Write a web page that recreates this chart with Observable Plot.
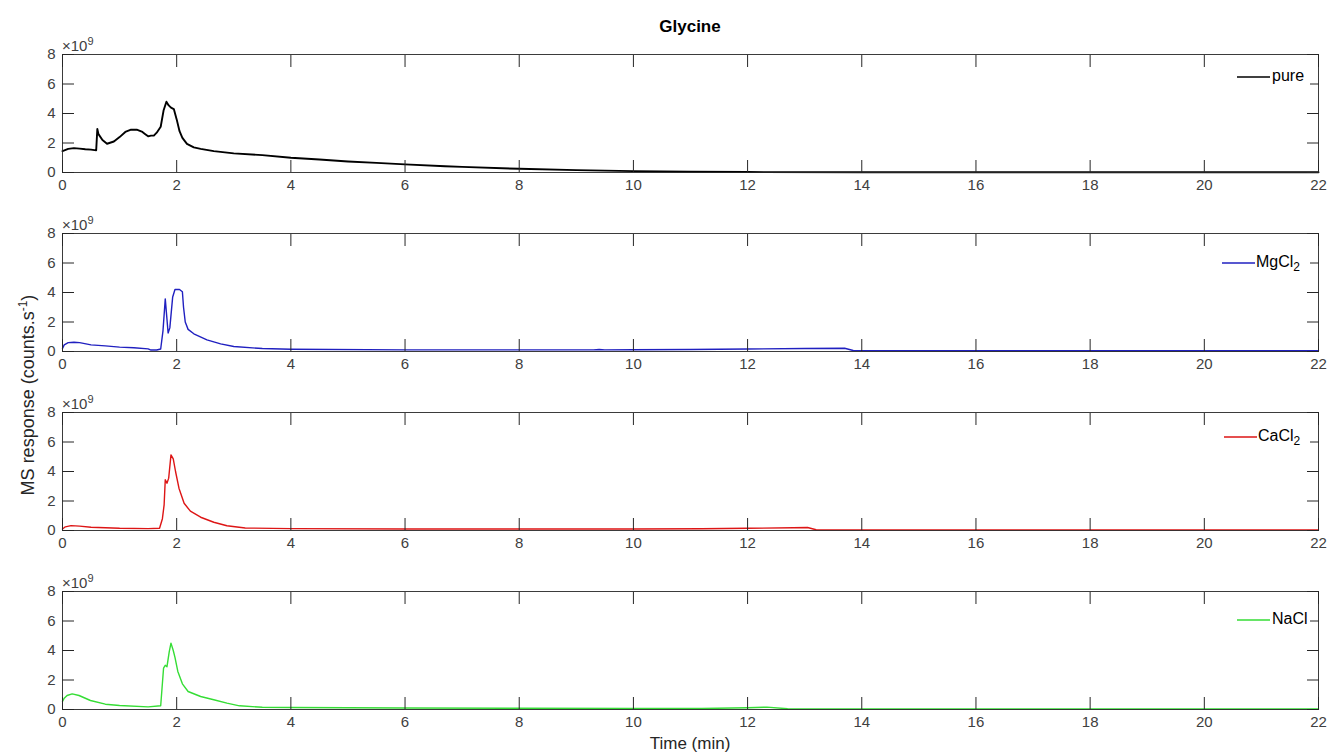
<!DOCTYPE html>
<html>
<head>
<meta charset="utf-8">
<script src="https://cdn.jsdelivr.net/npm/d3@7"></script>
<script src="https://cdn.jsdelivr.net/npm/@observablehq/plot@0.6"></script>
<style>
  body { margin: 0; background: #fff; }
  #chart { position: relative; width: 1333px; height: 754px; font-family: "Liberation Sans", Arial, sans-serif; color: #262626; }
  .abs { position: absolute; white-space: nowrap; }
  .panel { position: absolute; left: 0; }
  .exp { font-size: 15px; color: #404040; }
  .exp sup { font-size: 11px; }
  .leg { position: absolute; background: #fff; height: 26px; }
  .leg svg.ln { position: absolute; width: 33px; height: 4px; overflow: visible; }
  .leg .tx { position: absolute; font-size: 16px; color: #000; }
  .leg sub { font-size: 12px; }
</style>
</head>
<body>
<div id="chart"></div>
<script>
// ---- data (values in units of 10^9 counts/s) ----
const xTicks = [0, 2, 4, 6, 8, 10, 12, 14, 16, 18, 20, 22];
const yTicks = [0, 2, 4, 6, 8];

const pureT = [0,0.1,0.2,0.3,0.4,0.5,0.59,0.61,0.63,0.7,0.78,0.9,1.0,1.1,1.2,1.3,1.4,1.45,1.5,1.55,1.6,1.65,1.72,1.77,1.82,1.86,1.9,1.95,2.0,2.05,2.1,2.18,2.3,2.42,2.65,3.0,3.5,4,4.5,5,5.5,6,6.7,7,8,9,10,11,12,14,16,18,20,22];
const pureV = [1.45,1.6,1.65,1.62,1.58,1.55,1.5,2.95,2.6,2.2,1.95,2.1,2.4,2.75,2.9,2.9,2.75,2.6,2.45,2.5,2.5,2.7,3.1,4.2,4.8,4.55,4.4,4.3,3.6,2.8,2.35,1.94,1.7,1.6,1.45,1.3,1.18,1.0,0.88,0.75,0.65,0.55,0.42,0.38,0.25,0.16,0.09,0.05,0.03,0.02,0.02,0.02,0.02,0.02];

const mgT = [0,0.03,0.1,0.2,0.3,0.5,0.75,1.0,1.25,1.5,1.55,1.65,1.72,1.76,1.8,1.85,1.88,1.93,1.97,2.05,2.1,2.12,2.15,2.2,2.3,2.53,2.77,3.0,3.5,4,6,8,9.3,9.4,9.5,10,11,12,13,13.7,13.85,14,16,18,20,22];
const mgV = [0.2,0.45,0.6,0.63,0.6,0.45,0.38,0.3,0.25,0.18,0.1,0.1,0.17,1.4,3.57,1.25,1.6,3.7,4.2,4.2,4.05,3.0,2.0,1.5,1.2,0.79,0.52,0.34,0.2,0.15,0.11,0.11,0.11,0.14,0.11,0.12,0.14,0.17,0.2,0.22,0.07,0.06,0.05,0.05,0.05,0.05];

const caT = [0,0.05,0.15,0.3,0.5,1.0,1.5,1.7,1.75,1.78,1.8,1.83,1.86,1.9,1.94,1.98,2.04,2.13,2.24,2.42,2.65,2.88,3.2,4,6,8,10,11.2,12,12.8,13.05,13.2,14,16,18,20,22];
const caV = [0.1,0.25,0.33,0.3,0.22,0.15,0.13,0.15,0.8,1.74,3.44,3.21,3.55,5.13,4.86,4.0,2.87,1.85,1.31,0.9,0.56,0.32,0.17,0.13,0.1,0.1,0.1,0.12,0.15,0.19,0.2,0.05,0.04,0.04,0.04,0.04,0.04];

const naT = [0,0.03,0.08,0.17,0.29,0.49,0.75,1.0,1.5,1.72,1.77,1.8,1.83,1.87,1.9,1.94,1.97,2.02,2.1,2.2,2.42,2.65,2.88,3.1,3.5,4,6,8,10,11.2,12.0,12.34,12.7,14,16,18,20,22];
const naV = [0.54,0.77,0.95,1.06,0.95,0.61,0.36,0.27,0.18,0.25,2.8,3.0,2.9,3.93,4.5,4.0,3.53,2.58,1.74,1.22,0.88,0.66,0.43,0.25,0.15,0.14,0.1,0.08,0.07,0.07,0.12,0.16,0.05,0.04,0.04,0.04,0.04,0.04];

const seriesNames = ["pure", "MgCl2", "CaCl2", "NaCl"];
const seriesColors = ["#000000", "#2020c0", "#dd1515", "#35dd35"];
const seriesT = [pureT, mgT, caT, naT];
const seriesV = [pureV, mgV, caV, naV];

// ---- layout ----
const chart = document.getElementById("chart");
const panelTops = [34, 213, 392, 571];
const legendLayout = [
  {lineY: 77, lineX: 1237, textX: 1272},
  {lineY: 263, lineX: 1222, textX: 1256},
  {lineY: 437, lineX: 1224, textX: 1258},
  {lineY: 620, lineX: 1237, textX: 1272}
];

function addDiv(html, cls, style) {
  const d = document.createElement("div");
  d.className = cls;
  d.innerHTML = html;
  Object.assign(d.style, style);
  chart.appendChild(d);
  return d;
}

addDiv("Glycine", "abs", {left: "0px", width: "1380px", top: "17px", textAlign: "center", fontWeight: "bold", fontSize: "17px", color: "#000"});

seriesNames.forEach((name, i) => {
  const data = seriesT[i].map((t, j) => ({t, v: seriesV[i][j]}));
  const svg = Plot.plot({
    width: 1333,
    height: 160,
    marginLeft: 62,
    marginRight: 15,
    marginTop: 20,
    marginBottom: 22,
    x: {domain: [0, 22]},
    y: {domain: [0, 8]},
    style: {fontFamily: "'Liberation Sans', Arial, sans-serif", fontSize: "15px", color: "#404040", background: "transparent", overflow: "visible"},
    marks: [
      Plot.line(data, {x: "t", y: "v", stroke: seriesColors[i], strokeWidth: i === 0 ? 1.9 : 1.4}),
      Plot.axisX(xTicks, {anchor: "bottom", tickSize: -12, tickFormat: () => "", label: null, stroke: "#262626"}),
      Plot.axisX(xTicks, {anchor: "top", tickSize: -12, tickFormat: () => "", label: null, stroke: "#262626"}),
      Plot.axisY(yTicks, {anchor: "left", tickSize: -12, tickFormat: () => "", label: null, stroke: "#262626"}),
      Plot.axisY(yTicks, {anchor: "right", tickSize: -12, tickFormat: () => "", label: null, stroke: "#262626"}),
      Plot.axisX(xTicks, {anchor: "bottom", tickSize: 0, tickPadding: 7, label: null, fontSize: 15}),
      Plot.axisY(yTicks, {anchor: "left", tickSize: 0, tickPadding: 7, label: null, fontSize: 15}),
      Plot.frame({stroke: "#262626", strokeOpacity: 0.9})
    ]
  });
  const wrap = document.createElement("div");
  wrap.className = "panel";
  wrap.style.top = panelTops[i] + "px";
  wrap.appendChild(svg);
  chart.appendChild(wrap);

  // ×10^9 exponent label
  addDiv("×10<sup>9</sup>", "abs exp", {left: "62px", top: (panelTops[i] + 1) + "px"});

  // legend
  const L = legendLayout[i];
  const label = name.replace(/(\d)$/, "<sub>$1</sub>");
  const box = addDiv("", "leg", {left: (L.lineX - 10) + "px", top: (L.lineY - 13) + "px", width: (1310 - L.lineX + 10) + "px"});
  box.insertAdjacentHTML("beforeend",
    `<svg class="ln" style="left:10px;top:11px" viewBox="0 0 33 4"><line x1="0" x2="33" y1="2" y2="2" stroke="${seriesColors[i]}" stroke-width="1.5"/></svg>`);
  const tx = document.createElement("div");
  tx.className = "tx";
  tx.innerHTML = label;
  Object.assign(tx.style, {left: (L.textX - L.lineX + 10) + "px", top: "3px"});
  box.appendChild(tx);
});

addDiv("Time (min)", "abs", {left: "0px", width: "1380px", top: "734px", textAlign: "center", fontSize: "17px", color: "#262626"});
addDiv("MS response (counts.s<sup style='font-size:12px'>-1</sup>)", "abs", {left: "27px", top: "395px", fontSize: "18px", color: "#262626", transform: "translate(-50%, -50%) rotate(-90deg)"});
</script>
</body>
</html>
